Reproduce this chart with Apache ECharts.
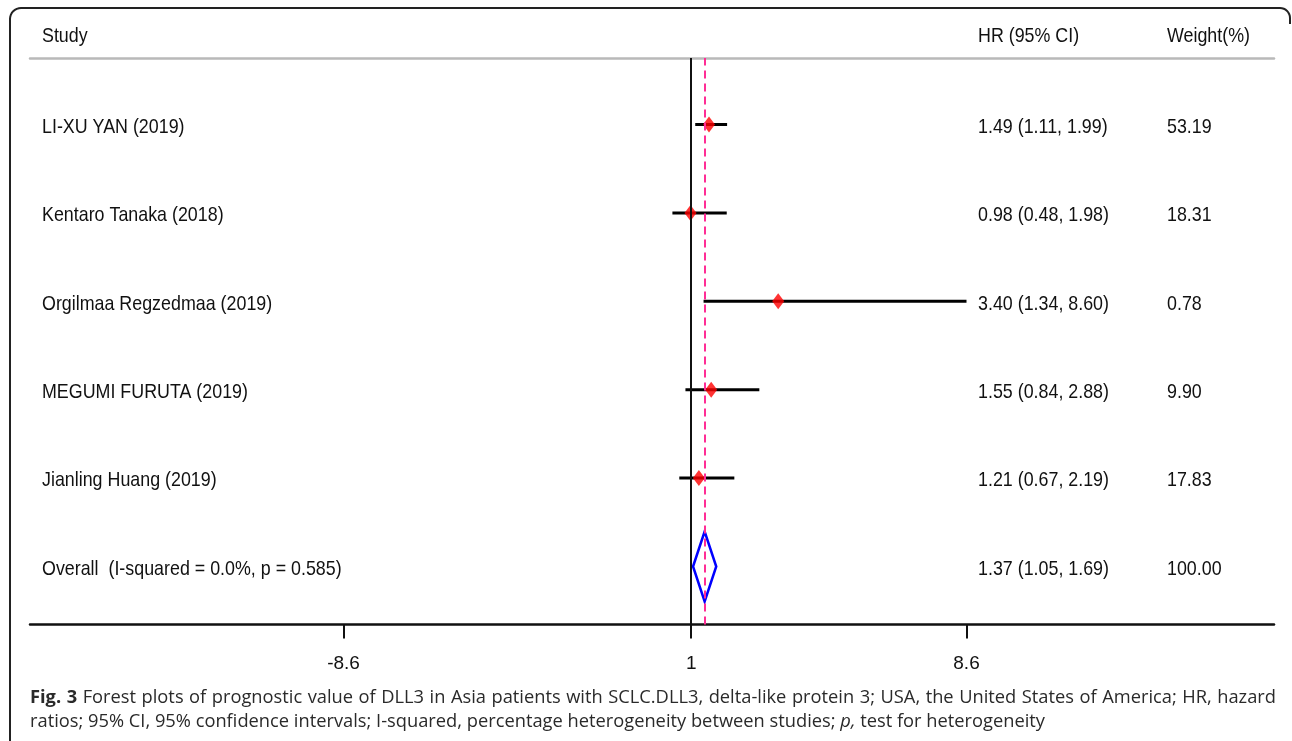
<!DOCTYPE html>
<html>
<head>
<meta charset="utf-8">
<script src="https://cdn.jsdelivr.net/npm/echarts@6/dist/echarts.min.js"></script>
<style>
html,body{margin:0;padding:0;background:#fff;}
#chart{width:1292px;height:741px;}
</style>
</head>
<body>
<div id="chart"></div>
<script>
// ---- data ----
const headers = ['Study', 'HR (95% CI)', 'Weight(%)'];
const studies = ['LI-XU YAN (2019)', 'Kentaro Tanaka (2018)', 'Orgilmaa Regzedmaa (2019)', 'MEGUMI FURUTA (2019)', 'Jianling Huang (2019)'];
const hr = [1.49, 0.98, 3.40, 1.55, 1.21];
const ciLow = [1.11, 0.48, 1.34, 0.84, 0.67];
const ciHigh = [1.99, 1.98, 8.60, 2.88, 2.19];
const weights = [53.19, 18.31, 0.78, 9.90, 17.83];
const overallLabel = 'Overall  (I-squared = 0.0%, p = 0.585)';
const overallHR = 1.37;
const overallLow = 1.05;
const overallHigh = 1.69;
const overallWeight = 100.00;
const xTicks = [-8.6, 1, 8.6];
const xTickLabels = ['-8.6', '1', '8.6'];
const nullValue = 1;
const captionLine1 = 'Forest plots of prognostic value of DLL3 in Asia patients with SCLC.DLL3, delta-like protein 3; USA, the United States of America; HR, hazard';
const captionLine2a = 'ratios; 95% CI, 95% confidence intervals; I-squared, percentage heterogeneity between studies; ';
const captionItalic = 'p,';
const captionLine2b = ' test for heterogeneity';

// ---- derived rows ----
const fmt = v => v.toFixed(2);
const colStudy = [headers[0]].concat(studies, [overallLabel]);
const colHR = [headers[1]].concat(hr.map((v, i) => fmt(v) + ' (' + fmt(ciLow[i]) + ', ' + fmt(ciHigh[i]) + ')'),
  [fmt(overallHR) + ' (' + fmt(overallLow) + ', ' + fmt(overallHigh) + ')']);
const colW = [headers[2]].concat(weights.map(fmt), [fmt(overallWeight)]);
const overallRow = studies.length + 1;

const FONT = "'Liberation Sans', Arial, sans-serif";
const CAPFONT = "'Open Sans', 'Noto Sans', sans-serif";
const XMIN = -17.257, XMAX = 17.09;
const GL = 30, GR = 18;
const TEXT_SCALE_X = 0.85;

// frame outline (decoration)
function cornerPts(cx, cy, r, a0, a1) {
  const pts = [];
  for (let k = 0; k <= 8; k++) {
    const a = a0 + (a1 - a0) * k / 8;
    pts.push([cx + r * Math.cos(a), cy + r * Math.sin(a)]);
  }
  return pts;
}
const framePts = [[10, 760]].concat(
  cornerPts(21, 19, 11, Math.PI, Math.PI * 1.5),
  cornerPts(1280, 18, 10, Math.PI * 1.5, Math.PI * 2),
  [[1290, 24]]
);

// caption: justified first line built from measured words
const mctx = document.createElement('canvas').getContext('2d');
function measure(t, font) { mctx.font = font; return mctx.measureText(t).width; }
const CAP_SIZE = 18.3;
const capFontN = CAP_SIZE + 'px ' + CAPFONT;
const capFontB = 'bold ' + CAP_SIZE + 'px ' + CAPFONT;
const capFontI = 'italic ' + CAP_SIZE + 'px ' + CAPFONT;
const CAP_LEFT = 30, CAP_RIGHT = 1276, CAP_Y1 = 698, CAP_Y2 = 722;
const line1Words = [{t: 'Fig.', f: capFontB}, {t: '3', f: capFontB}].concat(
  captionLine1.split(' ').map(w => ({t: w, f: capFontN})));
const wsum = line1Words.reduce((s, w) => s + measure(w.t, w.f), 0);
const gap = (CAP_RIGHT - CAP_LEFT - wsum) / (line1Words.length - 1);
const captionEls = [];
let cx = CAP_LEFT;
line1Words.forEach(w => {
  captionEls.push({type: 'text', x: cx, y: CAP_Y1, silent: true,
    style: {text: w.t, font: w.f, fill: '#2a2a2a', verticalAlign: 'middle', align: 'left'}});
  cx += measure(w.t, w.f) + gap;
});
captionEls.push({type: 'text', x: CAP_LEFT, y: CAP_Y2, silent: true,
  style: {text: captionLine2a + '{i|' + captionItalic + '}' + captionLine2b, font: capFontN, fill: '#2a2a2a',
    verticalAlign: 'middle', align: 'left',
    rich: {i: {font: capFontI, fill: '#2a2a2a'}}}});

const chart = echarts.init(document.getElementById('chart'), null, {renderer: 'canvas'});

function textColumn(col, dx) {
  return {
    type: 'custom', xAxisIndex: 1, yAxisIndex: 1, z: 5, silent: true,
    data: col.map((t, i) => [0, i]),
    encode: {x: 0, y: 1},
    renderItem: function (params, api) {
      const row = api.value(1);
      const y = api.coord([0, row])[1] + (row === 0 ? 0.5 : 2.5);
      return {type: 'text', x: params.coordSys.x + dx, y: y, scaleX: TEXT_SCALE_X,
        style: {text: col[params.dataIndex], font: '21px ' + FONT, fill: '#111',
          verticalAlign: 'middle', align: 'left'}};
    }
  };
}

const option = {
  animation: false,
  backgroundColor: '#fff',
  grid: [
    {left: GL, right: GR, top: 58, bottom: 116.5},
    {left: GL, right: GR, top: 36.1, height: 530.4}
  ],
  xAxis: [
    {type: 'value', gridIndex: 0, min: XMIN, max: XMAX, position: 'bottom',
      axisLine: {show: true, onZero: false, lineStyle: {color: '#111', width: 2.5}},
      axisTick: {show: true, customValues: xTicks, length: 14, lineStyle: {color: '#111', width: 2}},
      axisLabel: {show: true, customValues: xTicks, margin: 30, fontFamily: 'Liberation Sans', fontSize: 19, color: '#111',
        formatter: function (v) {
          const k = xTicks.indexOf(v);
          return k >= 0 ? xTickLabels[k] : String(v);
        }},
      splitLine: {show: false}},
    {type: 'value', gridIndex: 1, min: XMIN, max: XMAX, show: false},
    {type: 'value', gridIndex: 0, min: XMIN, max: XMAX, position: 'top',
      axisLine: {show: true, onZero: false, lineStyle: {color: '#b9b9b9', width: 2.5}},
      axisTick: {show: false}, axisLabel: {show: false}, splitLine: {show: false}}
  ],
  yAxis: [
    {type: 'value', gridIndex: 0, min: 0, max: 1, show: false},
    {type: 'category', gridIndex: 1, inverse: true, boundaryGap: false, data: colStudy, show: false}
  ],
  series: [
    {
      type: 'line', xAxisIndex: 0, yAxisIndex: 0, data: [], silent: true, z: 1,
      markLine: {
        silent: true, symbol: 'none', label: {show: false},
        data: [
          {xAxis: nullValue, lineStyle: {color: '#111', width: 2, type: 'solid'}},
          {xAxis: overallHR, lineStyle: {color: '#ff2d95', width: 2, type: [8, 5]}}
        ]
      }
    },
    {
      type: 'custom', xAxisIndex: 1, yAxisIndex: 1, z: 3,
      data: studies.map((s, i) => [ciLow[i], ciHigh[i], i + 1]),
      encode: {x: [0, 1], y: 2},
      renderItem: function (params, api) {
        const a = api.coord([api.value(0), api.value(2)]);
        const b = api.coord([api.value(1), api.value(2)]);
        return {type: 'line', shape: {x1: a[0], y1: a[1], x2: b[0], y2: b[1]},
          style: {stroke: '#000', lineWidth: 3}};
      }
    },
    {
      type: 'scatter', xAxisIndex: 1, yAxisIndex: 1, z: 4,
      symbol: 'diamond', symbolSize: [12, 16],
      itemStyle: {color: '#ff0000'},
      data: hr.map((v, i) => [v, i + 1])
    },
    {
      type: 'custom', xAxisIndex: 1, yAxisIndex: 1, z: 4,
      data: [[overallLow, overallHR, overallHigh, overallRow]],
      encode: {x: [0, 1, 2], y: 3},
      renderItem: function (params, api) {
        const l = api.coord([api.value(0), api.value(3)]);
        const c = api.coord([api.value(1), api.value(3)]);
        const r = api.coord([api.value(2), api.value(3)]);
        const h = 35;
        return {type: 'polygon',
          shape: {points: [[l[0], c[1]], [c[0], c[1] - h], [r[0], c[1]], [c[0], c[1] + h]]},
          style: {stroke: '#0000ff', lineWidth: 2.5, fill: 'none'}};
      }
    },
    textColumn(colStudy, 12),
    textColumn(colHR, 948),
    textColumn(colW, 1137)
  ],
  graphic: [
    {type: 'polyline', silent: true,
      shape: {points: framePts},
      style: {stroke: '#222', lineWidth: 2, fill: null}},
    {type: 'group', silent: true, children: captionEls}
  ]
};
chart.setOption(option);
</script>
</body>
</html>
